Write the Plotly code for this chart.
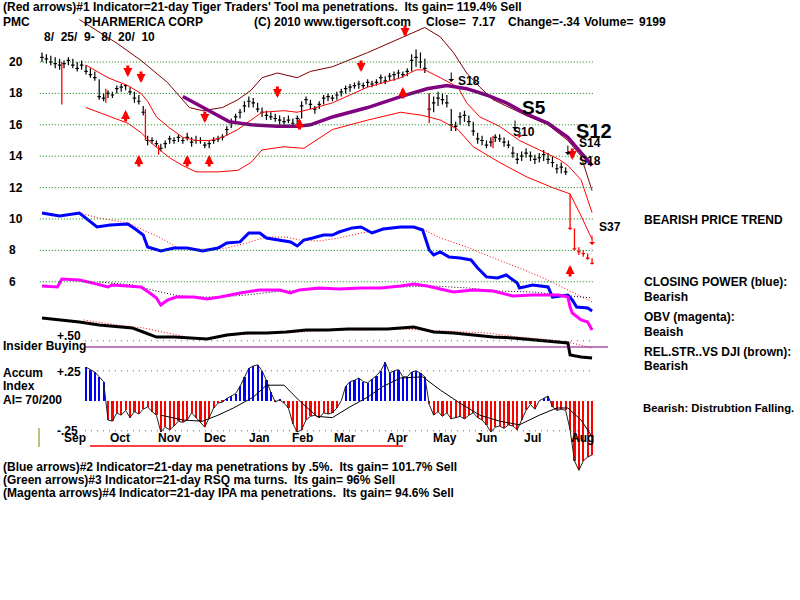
import plotly.graph_objects as go

# ---------------- data (x = trading-day index from 8/25/09) ----------------
bar_x = list(range(0, 252, 2))
price_high = [20.6,20.5,20.4,20.3,20.2,20.1,20.3,20.2,20.0,20.1,
              19.8,19.6,19.4,18.9,18.0,18.2,18.1,18.5,18.6,18.6,
              18.4,18.1,17.9,17.2,15.3,15.2,15.0,14.8,15.0,15.3,
              15.2,15.4,15.2,15.5,15.2,15.3,15.2,14.9,15.0,15.2,
              15.3,15.4,15.9,16.4,16.7,17.0,17.5,17.8,17.7,17.4,
              17.1,16.9,16.8,16.7,16.6,16.5,16.6,16.4,16.6,17.5,
              17.8,17.6,17.2,17.5,17.9,18.0,17.9,18.1,18.3,18.5,
              18.6,18.7,18.8,18.7,18.9,18.8,18.9,19.2,19.1,19.3,
              19.4,19.5,19.4,19.6,20.5,20.8,20.6,20.2,18.0,17.8,
              18.1,18.0,17.9,17.0,16.2,16.8,16.9,16.6,16.2,15.5,
              15.3,15.0,15.2,15.4,15.4,15.2,15.0,14.6,14.2,14.3,
              14.5,14.3,14.1,14.2,14.4,14.2,14.0,13.5,13.6,13.3,
              11.6,9.4,8.2,8.0,7.8,7.5]
price_low = [20.0,19.9,19.8,19.6,19.5,19.6,19.8,19.6,19.4,19.5,
             19.2,19.0,18.8,17.6,17.5,17.7,17.7,18.0,18.1,18.2,
             17.9,17.4,17.3,16.6,14.7,14.8,14.6,14.3,14.5,14.8,
             14.8,14.9,14.8,15.0,14.6,14.8,14.8,14.5,14.5,14.8,
             14.9,15.0,15.3,15.8,16.2,16.4,16.8,17.1,17.1,16.8,
             16.5,16.3,16.3,16.2,16.0,16.0,16.1,15.9,16.0,16.4,
             17.3,17.0,16.7,17.0,17.3,17.5,17.5,17.6,17.8,18.0,
             18.1,18.3,18.3,18.3,18.4,18.4,18.5,18.6,18.6,18.8,
             18.8,19.0,19.0,19.1,19.4,19.7,19.6,19.3,16.5,16.8,
             17.2,17.3,17.1,15.6,15.6,16.0,16.2,15.9,15.3,14.8,
             14.7,14.5,14.6,14.9,14.9,14.6,14.5,13.9,13.5,13.7,
             13.9,13.7,13.5,13.6,13.7,13.5,13.3,12.9,12.9,12.8,
             9.3,8.0,7.7,7.6,7.4,7.1]
price_close = [20.3,20.2,20.0,19.9,19.8,19.9,20.1,19.8,19.6,19.8,
               19.4,19.2,19.0,17.8,17.7,18.0,17.9,18.3,18.4,18.5,
               18.1,17.7,17.5,16.8,15.0,15.0,14.8,14.5,14.8,15.1,
               15.0,15.2,15.0,15.2,14.9,15.0,15.0,14.7,14.8,15.0,
               15.1,15.2,15.7,16.2,16.5,16.8,17.2,17.5,17.4,17.0,
               16.8,16.6,16.5,16.4,16.3,16.2,16.3,16.1,16.4,17.2,
               17.6,17.3,17.0,17.3,17.7,17.8,17.7,17.9,18.1,18.3,
               18.4,18.5,18.6,18.5,18.7,18.6,18.7,19.0,18.8,19.1,
               19.2,19.3,19.2,19.4,20.1,20.3,20.0,19.6,17.0,17.4,
               17.7,17.6,17.4,16.0,15.9,16.5,16.6,16.2,15.6,15.1,
               15.0,14.7,14.9,15.2,15.1,14.9,14.7,14.2,13.8,14.0,
               14.2,14.0,13.8,13.9,14.1,13.8,13.6,13.2,13.3,13.0,
               9.4,8.1,7.9,7.8,7.5,7.17]
CRASH_START = 120   # bars drawn in red from here on

spike_x = [9, 29, 47, 53, 176, 205]
spike_top = [20.0, 18.3, 17.0, 14.7, 18.0, 15.3]
spike_bottom = [17.3, 17.4, 15.0, 14.1, 16.1, 14.5]

upper_band_x = [20,30,39,45,48,52,58,64,70,76,82,89,95,100,110,116,122,132,148,163,170,174,181,189,193,199,208,217,226,235,239,245,250]
upper_band_y = [19.8,19.0,18.5,18.0,17.5,16.5,15.8,15.2,15.0,15.0,15.2,15.7,16.3,16.8,16.9,16.8,17.0,17.4,18.4,19.0,19.5,19.5,19.0,18.4,17.4,16.5,15.9,15.0,14.4,13.8,13.4,12.5,10.4]
lower_band_x = [20,30,39,45,50,58,64,70,80,89,95,100,110,119,132,148,163,173,181,189,196,208,220,232,240,245,250]
lower_band_y = [17.1,16.6,16.1,15.5,14.8,13.9,13.4,13.0,13.0,13.1,13.6,14.4,14.6,14.5,15.7,16.3,16.8,16.6,16.3,15.7,14.6,13.6,12.7,12.0,11.6,10.2,8.7]
outer_band_x = [17,34,45,57,67,73,82,89,95,100,107,116,122,132,148,163,174,181,187,193,199,205,211,220,230,239,245,250]
outer_band_y = [22.7,21.2,20.1,18.7,17.1,16.9,17.1,17.6,18.2,19.0,19.3,19.0,19.4,19.7,20.6,21.5,22.2,21.6,20.6,19.3,18.4,17.6,17.2,16.6,16.0,15.0,14.0,11.8]
long_ma_x = [64,73,85,95,107,116,122,132,148,163,175,184,193,202,211,220,230,239,245,250]
long_ma_y = [17.8,17.1,16.2,16.0,15.9,15.9,16.0,16.5,17.1,17.8,18.3,18.5,18.3,17.9,17.4,16.7,16.1,15.2,14.2,13.4]

cp_x = [0,8,17,20,25,31,39,43,46,48,54,60,66,73,80,84,90,94,99,102,107,113,116,119,123,128,132,135,141,145,150,155,163,169,173,176,178,181,185,190,195,198,202,207,211,216,217,223,230,232,239,241,243,248,250]
cp_y = [10.38,10.19,10.38,10.06,9.49,9.62,9.68,9.30,8.98,8.22,7.96,8.15,8.15,7.96,8.15,8.47,8.54,9.11,9.11,8.79,8.66,8.54,8.28,8.66,8.79,8.98,8.98,9.17,9.43,9.49,9.11,9.36,9.49,9.49,9.30,8.03,7.71,7.90,7.58,7.52,7.39,6.88,6.31,6.24,6.43,5.92,5.61,5.80,5.67,5.03,5.16,4.84,4.39,4.33,4.14]
cp_ma_x = [17,26,39,46,54,61,69,75,84,93,102,111,117,126,135,145,154,163,172,181,193,205,217,230,241,250]
cp_ma_y = [10.38,10.06,9.75,9.30,8.79,8.22,8.09,8.09,8.15,8.47,8.85,8.85,8.66,8.60,8.79,9.11,9.30,9.43,9.43,8.79,8.22,7.52,6.88,6.11,5.35,4.71]

obv_x = [0,7,9,17,23,30,32,45,49,52,54,57,61,69,75,81,90,99,108,113,117,126,135,145,154,163,169,175,187,196,205,214,223,235,239,240,241,245,248,250]
obv_y = [5.73,5.67,6.18,6.11,5.92,5.67,5.80,5.67,5.29,4.97,4.52,4.84,5.03,5.03,4.90,5.03,5.29,5.48,5.48,5.29,5.48,5.61,5.54,5.61,5.61,5.73,5.86,5.73,5.35,5.48,5.41,5.10,5.16,5.16,5.03,4.39,4.01,3.57,3.44,2.93]
obv_ma_x = [26,41,50,60,69,81,93,105,117,132,148,163,178,193,208,223,235,250]
obv_ma_y = [5.99,5.80,5.48,5.16,5.03,5.03,5.16,5.35,5.48,5.54,5.61,5.67,5.73,5.61,5.41,5.35,5.16,4.97]

rs_x = [0,8,17,26,35,41,46,52,60,66,75,84,93,102,111,120,130,139,148,157,163,169,178,187,196,205,214,223,232,239,240,245,250]
rs_y = [3.69,3.57,3.44,3.25,3.12,3.06,2.80,2.48,2.48,2.42,2.36,2.61,2.74,2.74,2.80,2.93,2.93,2.99,2.99,2.99,3.06,3.12,2.80,2.74,2.61,2.48,2.42,2.29,2.17,2.10,1.34,1.21,1.15]
rs_ma_x = [19,34,46,57,66,75,87,102,117,132,148,163,172,187,202,217,232,241,250]
rs_ma_y = [3.57,3.25,3.06,2.74,2.48,2.36,2.61,2.74,2.80,2.93,2.93,2.99,2.93,2.80,2.74,2.48,2.29,2.10,1.78]

ai_x = list(range(20, 252, 2))
ai_values = [.28,.26,.24,.20,.16,-.16,-.17,-.10,-.12,-.08,
             -.14,-.09,-.11,-.07,-.05,-.09,-.12,-.26,-.22,-.24,
             -.21,-.17,-.18,-.16,-.10,-.14,-.18,-.22,-.14,-.06,
             -.02,-.01,.02,.04,.06,.12,.20,.27,.29,.30,
             .25,.17,.07,-.01,.01,-.02,-.06,-.19,-.26,-.24,
             -.16,-.13,-.12,-.14,-.10,-.11,-.10,-.06,.00,.12,
             .16,.17,.19,.16,.15,.18,.21,.25,.32,.23,
             .25,.26,.20,.20,.24,.25,.23,.20,-.03,-.12,
             -.09,-.13,-.10,-.15,-.14,-.13,-.15,-.12,-.10,-.14,
             -.16,-.20,-.26,-.22,-.21,-.23,-.20,-.21,-.24,-.16,
             -.08,-.03,-.07,.00,.02,.04,-.05,-.08,-.07,-.08,
             -.24,-.50,-.58,-.50,-.47,-.45]
ai_ma_x = [54,64,73,80,87,96,102,110,117,125,132,140,148,155,163,173,181,190,199,208,217,226,234,239,245,250]
ai_ma_y = [-.12,-.16,-.17,-.12,-.06,.03,.13,.13,0,-.13,-.14,-.05,.03,.12,.19,.20,.09,-.02,-.12,-.17,-.20,-.12,-.06,-.06,-.16,-.30]
ai_levels = [0.50, 0.25, -0.25]

price_ticks = [20, 18, 16, 14, 12, 10, 8, 6]
month_labels = ["Sep","Oct","Nov","Dec","Jan","Feb","Mar","Apr","May","Jun","Jul","Aug"]
month_pos = [15, 35.5, 58, 78.6, 99, 118.6, 137.7, 161.4, 183, 202, 222.7, 245.5]

down_arrow_x = [39, 45, 74, 107, 145, 165, 241]
down_arrow_y = [19.04, 18.66, 16.11, 17.71, 19.36, 21.59, 13.76]
up_arrow_x = [38, 44, 66, 76, 117, 164, 240]
up_arrow_y = [16.94, 14.08, 14.08, 14.08, 16.43, 18.41, 7.07]
signal_arrow_x = [186, 215, 239]
signal_arrow_y = [18.73, 15.67, 14.08]
thin_red_arrow_x = [217, 250]
thin_red_arrow_y = [15.16, 8.34]

# ---------------- figure ----------------
F = "Liberation Sans"
FS = 12
fig = go.Figure()

def line(x, y, color, width, dash=None, axis="y"):
    fig.add_trace(go.Scatter(x=x, y=y, mode="lines", yaxis=axis,
                             line=dict(color=color, width=width, dash=dash),
                             hoverinfo="skip"))

# price grid
for p in price_ticks:
    fig.add_shape(type="line", xref="x", yref="y", x0=-1, x1=250.5, y0=p, y1=p,
                  line=dict(color="#008000", width=1, dash="1px,2px"))
for lv in ai_levels:
    fig.add_shape(type="line", xref="x", yref="y2", x0=19.5, x1=250.5, y0=lv, y1=lv,
                  line=dict(color="#555555", width=1, dash="1px,5px"))

line(outer_band_x, outer_band_y, "#800000", 1)
line(upper_band_x, upper_band_y, "#ff0000", 1)
line(lower_band_x, lower_band_y, "#ff0000", 1)
line(long_ma_x, long_ma_y, "#800080", 3.5)

n = CRASH_START
fig.add_trace(go.Ohlc(x=bar_x[:n], open=price_close[:n], high=price_high[:n],
                      low=price_low[:n], close=price_close[:n], tickwidth=0.4,
                      increasing=dict(line=dict(color="black", width=1.2)),
                      decreasing=dict(line=dict(color="black", width=1.2)),
                      hoverinfo="skip"))
fig.add_trace(go.Ohlc(x=bar_x[n:], open=price_close[n:], high=price_high[n:],
                      low=price_low[n:], close=price_close[n:], tickwidth=0.4,
                      increasing=dict(line=dict(color="red", width=1.3)),
                      decreasing=dict(line=dict(color="red", width=1.3)),
                      hoverinfo="skip"))
sx, sy = [], []
for xv, t, b in zip(spike_x, spike_top, spike_bottom):
    sx += [xv, xv, None]
    sy += [t, b, None]
line(sx, sy, "#ff0000", 1.3)

line(cp_ma_x, cp_ma_y, "#ff0000", 1, "1px,2px")
line(cp_x, cp_y, "#0000ff", 3)
line(obv_ma_x, obv_ma_y, "#000000", 1, "1px,2px")
line(obv_x, obv_y, "#ff00ff", 3)
line(rs_ma_x, rs_ma_y, "#ff0000", 1, "1px,2px")
line(rs_x, rs_y, "#000000", 3)

fig.add_trace(go.Bar(x=ai_x, y=ai_values, yaxis="y2", width=1.0,
                     marker=dict(color=["#0000ff" if v >= 0 else "#ff0000" for v in ai_values],
                                 line=dict(width=0)), hoverinfo="skip"))
line(ai_x, ai_values, "#222222", 1, axis="y2")
line(ai_ma_x, ai_ma_y, "#000000", 1, axis="y2")

ann = []
def txt(xp, yp, s, size=FS, bold=True, anchor="left", color="black"):
    ann.append(dict(x=xp / 800, y=1 - yp / 600, xref="paper", yref="paper", text=("<b>%s</b>" % s) if bold else s,
                    showarrow=False, xanchor=anchor, yanchor="middle",
                    font=dict(family=F, size=size, color=color)))

S = "\u00a0"
txt(1, 7, "(Red arrows)#1 Indicator=21-day Tiger Traders' Tool ma penetrations." + S + " Its gain= 119.4% Sell")
txt(1, 22, "PMC")
txt(82, 22, "PHARMERICA CORP")
txt(252, 22, "(C) 2010 www.tigersoft.com")
txt(424, 22, "Close=")
txt(470, 22, "7.17")
txt(506, 22, "Change=-.34")
txt(582, 22, "Volume=")
txt(637, 22, "9199")
txt(42, 37, "8/" + S + " 25/" + S + " 9-" + S + " 8/" + S + " 20/" + S + " 10")
for p in price_ticks:
    ann.append(dict(x=7 / 800, y=p, xref="paper", yref="y", text="<b>%d</b>" % p, showarrow=False,
                    xanchor="left", yanchor="middle", font=dict(family=F, size=FS)))
txt(55, 336, "+.50")
txt(1, 346, "Insider Buying")
txt(1, 373, "Accum")
txt(1, 386, "Index")
txt(1, 400, "AI= 70/200")
txt(55, 372, "+.25")
txt(55, 431, "-.25")
for m, pos in zip(month_labels, month_pos):
    ann.append(dict(x=pos, y=1 - 438 / 600, xref="x", yref="paper", text="<b>%s</b>" % m, showarrow=False,
                    xanchor="center", yanchor="middle", font=dict(family=F, size=FS)))
txt(642, 220, "BEARISH PRICE TREND")
txt(642, 282, "CLOSING POWER (blue):")
txt(642, 297, "Bearish")
txt(642, 317, "OBV (magenta):")
txt(642, 332, "Beaish")
txt(642, 352, "REL.STR..VS DJI (brown):")
txt(642, 366, "Bearish")
txt(641, 408, "Bearish: Distrubtion Falling.", size=11.3)
txt(1, 467, "(Blue arrows)#2 Indicator=21-day ma penetrations by .5%." + S + " Its gain= 101.7% Sell")
txt(1, 480, "(Green arrows)#3 Indicator=21-day RSQ ma turns." + S + " Its gain= 96% Sell")
txt(1, 493, "(Magenta arrows)#4 Indicator=21-day IPA ma penetrations." + S + " Its gain= 94.6% Sell")

# signal labels
txt(456, 81, "S18", size=12)
txt(520, 107, "S5", size=19)
txt(511, 132, "S10", size=12)
txt(574, 131, "S12", size=20)
txt(577, 143, "S14", size=12)
txt(577, 161, "S18", size=12)
txt(597, 227, "S37", size=12)

for xv, yv in zip(down_arrow_x, down_arrow_y):
    ann.append(dict(x=xv, y=yv, xref="x", yref="y", text="", showarrow=True, ax=0, ay=-13,
                    arrowhead=2, arrowsize=0.6, arrowwidth=3, arrowcolor="#ff0000"))
for xv, yv in zip(up_arrow_x, up_arrow_y):
    ann.append(dict(x=xv, y=yv, xref="x", yref="y", text="", showarrow=True, ax=0, ay=13,
                    arrowhead=2, arrowsize=0.6, arrowwidth=3, arrowcolor="#ff0000"))
for xv, yv in zip(signal_arrow_x, signal_arrow_y):
    ann.append(dict(x=xv, y=yv, xref="x", yref="y", text="", showarrow=True, ax=0, ay=-11,
                    arrowhead=1, arrowsize=1, arrowwidth=1, arrowcolor="#000000"))
for xv, yv in zip(thin_red_arrow_x, thin_red_arrow_y):
    ann.append(dict(x=xv, y=yv, xref="x", yref="y", text="", showarrow=True, ax=0, ay=-11,
                    arrowhead=1, arrowsize=1, arrowwidth=1, arrowcolor="#ff0000"))

shapes_px = [
    dict(x0=85, x1=608, y0=347, y1=347, color="#800080", w=1),
    dict(x0=90, x1=403, y0=446, y1=446, color="#ff0000", w=1.5),
    dict(x0=39, x1=39, y0=428, y1=447, color="#808000", w=1),
]
for s in shapes_px:
    fig.add_shape(type="line", xref="paper", yref="paper", x0=s["x0"] / 800, x1=s["x1"] / 800,
                  y0=1 - s["y0"] / 600, y1=1 - s["y1"] / 600, line=dict(color=s["color"], width=s["w"]))

fig.update_layout(
    width=800, height=600, margin=dict(l=0, r=0, t=0, b=0),
    paper_bgcolor="white", plot_bgcolor="white", showlegend=False,
    font=dict(family=F, size=FS, color="black"),
    xaxis=dict(range=[-19.09, 344.5], domain=[0, 1], visible=False, rangeslider=dict(visible=False)),
    yaxis=dict(range=[-14.27, 23.95], domain=[0, 1], visible=False),
    yaxis2=dict(range=[-1.66, 3.34], overlaying="y", visible=False),
    annotations=ann, bargap=0,
)
fig.write_html("out.html")
